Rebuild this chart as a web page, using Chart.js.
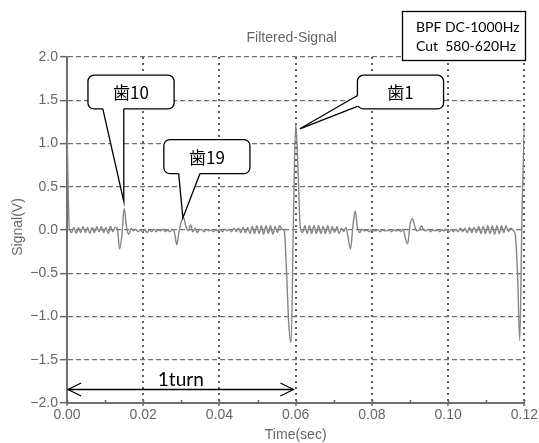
<!DOCTYPE html>
<html>
<head>
<meta charset="utf-8">
<title>Filtered-Signal</title>
<script src="https://cdn.jsdelivr.net/npm/chart.js@4.4.0/dist/chart.umd.min.js"></script>
<style>
  html, body { margin: 0; padding: 0; background: #fff; }
  #wrap { width: 539px; height: 443px; }
</style>
</head>
<body>
<div id="wrap"><canvas id="signalChart" width="539" height="443"></canvas></div>
<script>
// ── Data ─────────────────────────────────────────
// filtered signal (V), one sample every 0.6 ms from 0 to 0.12 s
const sampleStep = 0.0006;
const signal = [
  1.15, 0.03, -0.03, 0.03, -0.04, 0.03, -0.03, 0.04, -0.03, 0.03,
  -0.04, 0.03, -0.03, 0.04, -0.02, 0.04, -0.03, 0.03, -0.04, 0.04,
  -0.02, 0.03, 0.02, -0.22, -0.06, 0.25, 0.04, -0.05, 0.02, -0.01,
  0.01, -0.02, 0.0, -0.02, 0.01, -0.03, 0.0, -0.02, 0.01, -0.02,
  0.0, -0.01, 0.01, -0.02, 0.0, -0.02, 0.01, -0.03, -0.17, -0.02,
  0.1, 0.14, 0.04, -0.01, 0.06, -0.02, 0.02, -0.03, 0.01, 0.0,
  -0.02, 0.01, -0.01, 0.0, -0.02, 0.0, -0.01, 0.01, -0.02, 0.01,
  -0.01, 0.01, -0.02, 0.02, -0.02, 0.02, -0.03, 0.03, -0.03, 0.03,
  -0.04, 0.04, -0.04, 0.05, -0.04, 0.05, -0.05, 0.05, -0.04, 0.05,
  -0.05, 0.04, -0.03, 0.05, 0.01, -0.01, -0.48, -1.1, -1.3, 0.1,
  1.23, 0.72, 0.03, -0.03, 0.05, -0.04, 0.05, -0.04, 0.05, -0.04,
  0.05, -0.04, 0.04, -0.04, 0.05, -0.04, 0.04, -0.03, 0.04, -0.04,
  0.02, -0.02, 0.03, -0.1, -0.22, 0.04, 0.22, 0.03, -0.03, 0.01,
  -0.01, 0.0, -0.02, 0.0, -0.01, -0.01, 0.0, -0.02, 0.0, -0.01,
  -0.01, 0.0, -0.02, 0.0, -0.01, 0.0, -0.02, 0.01, -0.1, -0.16,
  0.06, 0.13, 0.05, -0.01, 0.0, 0.05, 0.0, -0.01, 0.01, -0.02,
  0.0, -0.01, 0.0, -0.02, 0.0, -0.01, 0.01, -0.02, 0.01, -0.02,
  0.01, -0.02, 0.02, -0.02, 0.02, -0.03, 0.03, -0.03, 0.03, -0.03,
  0.04, -0.04, 0.04, -0.04, 0.05, -0.04, 0.05, -0.05, 0.05, -0.04,
  0.05, -0.03, 0.05, -0.02, 0.02, 0.0, -0.05, -0.5, -1.28, 0.25,
  1.22
];

const timeRange = [0, 0.12];
const timeStep = 0.02;
const timeMinorTicks = [0.01, 0.03, 0.05, 0.07, 0.09, 0.11];
const voltRange = [-2, 2];
const voltStep = 0.5;

const chartTitle = 'Filtered-Signal';
const xTitle = 'Time(sec)';
const yTitle = 'Signal(V)';
const filterNote = ['BPF DC-1000Hz', 'Cut  580-620Hz'];

// callouts in data units: box [t1, v1, t2, v2], pointer base, pointer tip
const callouts = [
  { label: '歯10', box: [0.0055, 1.79, 0.0281, 1.40], side: 'bottom', base: [0.0094, 0.0149], tip: [0.0149, 0.33] },
  { label: '歯19', box: [0.0254, 1.045, 0.0480, 0.652], side: 'bottom', base: [0.0293, 0.0349], tip: [0.0304, 0.14] },
  { label: '歯1', box: [0.0762, 1.79, 0.0988, 1.40], side: 'left', base: [1.555, 1.43], tip: [0.0611, 1.17] }
];
const turnArrow = { label: '1turn', from: 0.0003, to: 0.0594, level: -1.84, labelLevel: -1.73 };

// ── Helpers ──────────────────────────────────────
const points = signal.map((v, i) => ({ x: i * sampleStep, y: v }));
const minus = s => s.replace('-', '\u2212');

function roundRectPath(ctx, x, y, w, h, r) {
  ctx.beginPath();
  ctx.moveTo(x + r, y);
  ctx.lineTo(x + w - r, y);
  ctx.arcTo(x + w, y, x + w, y + r, r);
  ctx.lineTo(x + w, y + h - r);
  ctx.arcTo(x + w, y + h, x + w - r, y + h, r);
  ctx.lineTo(x + r, y + h);
  ctx.arcTo(x, y + h, x, y + h - r, r);
  ctx.lineTo(x, y + r);
  ctx.arcTo(x, y, x + r, y, r);
  ctx.closePath();
}

function arrowHead(ctx, tx, ty, dir) {
  ctx.beginPath();
  ctx.moveTo(tx + dir * 13, ty - 6.5);
  ctx.lineTo(tx, ty);
  ctx.lineTo(tx + dir * 13, ty + 6.5);
  ctx.stroke();
}

// ── Overlay drawing ──────────────────────────────
const overlay = {
  id: 'overlay',
  afterDatasetsDraw(chart) {
    const { ctx, chartArea: area, scales: { x, y } } = chart;
    ctx.save();

    // minor ticks + inner part of major ticks on the time axis
    ctx.strokeStyle = '#666';
    ctx.lineWidth = 1.5;
    const majors = [];
    for (let t = timeRange[0]; t <= timeRange[1] + 1e-9; t += timeStep) majors.push(t);
    majors.concat(timeMinorTicks).forEach(t => {
      const px = Math.round(x.getPixelForValue(t)) + 0.5;
      ctx.beginPath();
      ctx.moveTo(px, area.bottom - 3);
      ctx.lineTo(px, area.bottom);
      ctx.stroke();
    });

    // callouts
    ctx.lineWidth = 1.3;
    ctx.strokeStyle = '#000';
    ctx.fillStyle = '#fff';
    callouts.forEach(c => {
      const x1 = x.getPixelForValue(c.box[0]), y1 = y.getPixelForValue(c.box[1]);
      const x2 = x.getPixelForValue(c.box[2]), y2 = y.getPixelForValue(c.box[3]);
      const tx = x.getPixelForValue(c.tip[0]), ty = y.getPixelForValue(c.tip[1]);
      let b1, b2, c1, c2;
      if (c.side === 'bottom') {
        b1 = [x.getPixelForValue(c.base[0]), y2]; b2 = [x.getPixelForValue(c.base[1]), y2];
        c1 = [b1[0] + 1, y2 - 2]; c2 = [b2[0] - 1, y2 - 2];
      } else {
        b1 = [x1, y.getPixelForValue(c.base[0])]; b2 = [x1, y.getPixelForValue(c.base[1])];
        c1 = [x1 + 2, b1[1] + 1]; c2 = [x1 + 2, b2[1] - 1];
      }
      roundRectPath(ctx, x1, y1, x2 - x1, y2 - y1, 6);
      ctx.fill();
      ctx.stroke();
      ctx.beginPath();
      ctx.moveTo(c1[0], c1[1]);
      ctx.lineTo(b1[0], b1[1]);
      ctx.lineTo(tx, ty);
      ctx.lineTo(b2[0], b2[1]);
      ctx.lineTo(c2[0], c2[1]);
      ctx.closePath();
      ctx.fill();
      ctx.beginPath();
      ctx.moveTo(b1[0], b1[1]);
      ctx.lineTo(tx, ty);
      ctx.lineTo(b2[0], b2[1]);
      ctx.stroke();

      ctx.save();
      ctx.fillStyle = '#000';
      ctx.font = '17px "Noto Sans CJK JP"';
      ctx.textAlign = 'center';
      ctx.textBaseline = 'middle';
      ctx.fillText(c.label, (x1 + x2) / 2, (y1 + y2) / 2 + 1);
      ctx.restore();
    });

    // one-turn double arrow
    const ay = Math.round(y.getPixelForValue(turnArrow.level)) + 0.5;
    const ax1 = x.getPixelForValue(turnArrow.from), ax2 = x.getPixelForValue(turnArrow.to);
    ctx.strokeStyle = '#000';
    ctx.lineWidth = 1.3;
    ctx.beginPath();
    ctx.moveTo(ax1, ay);
    ctx.lineTo(ax2, ay);
    ctx.stroke();
    arrowHead(ctx, ax1, ay, 1);
    arrowHead(ctx, ax2, ay, -1);
    ctx.fillStyle = '#000';
    ctx.font = '19px Lato';
    ctx.textAlign = 'center';
    ctx.textBaseline = 'middle';
    ctx.fillText(turnArrow.label, (ax1 + ax2) / 2, y.getPixelForValue(turnArrow.labelLevel));
    ctx.restore();
  },
  afterDraw(chart) {
    const { ctx, chartArea: area } = chart;
    ctx.save();
    ctx.fillStyle = '#666';
    ctx.font = '14px "Liberation Sans"';
    ctx.textAlign = 'center';
    ctx.textBaseline = 'middle';
    ctx.fillText(chartTitle, (area.left + area.right) / 2 - 4, 38);
    ctx.fillText(xTitle, (area.left + area.right) / 2, 435);
    ctx.save();
    ctx.translate(18, (area.top + area.bottom) / 2 - 3);
    ctx.rotate(-Math.PI / 2);
    ctx.fillText(yTitle, 0, 0);
    ctx.restore();

    // filter note box
    ctx.fillStyle = '#fff';
    ctx.strokeStyle = '#000';
    ctx.lineWidth = 1.3;
    ctx.fillRect(402, 11, 124, 50);
    ctx.strokeRect(402.5, 11.5, 123, 49);
    ctx.fillStyle = '#000';
    ctx.font = '14px Lato';
    ctx.textAlign = 'left';
    ctx.fillText(filterNote[0], 416, 27);
    ctx.fillText(filterNote[1], 416, 46);
    ctx.restore();
  }
};

// ── Chart ────────────────────────────────────────
const tickFont = { family: 'Liberation Sans', size: 14 };

new Chart(document.getElementById('signalChart'), {
  type: 'line',
  data: {
    datasets: [{
      label: chartTitle,
      data: points,
      borderColor: '#858585',
      borderWidth: 1.4,
      pointRadius: 0,
      cubicInterpolationMode: 'monotone',
      fill: false
    }]
  },
  options: {
    responsive: false,
    animation: false,
    devicePixelRatio: 1,
    layout: { padding: { top: 57, right: 14, left: 0, bottom: 0 } },
    plugins: { legend: { display: false }, tooltip: { enabled: false }, title: { display: false } },
    scales: {
      x: {
        type: 'linear',
        min: timeRange[0],
        max: timeRange[1],
        afterFit: s => { s.height = 40; },
        ticks: {
          stepSize: timeStep,
          color: '#666',
          font: tickFont,
          padding: 1,
          maxRotation: 0,
          callback: v => v.toFixed(2)
        },
        grid: { color: '#5e5e5e', lineWidth: 2, tickLength: 3, tickColor: '#666', tickWidth: 1.5, tickBorderDash: [] },
        border: { display: true, color: '#707070', width: 2, dash: [2, 4] }
      },
      y: {
        min: voltRange[0],
        max: voltRange[1],
        afterFit: s => { s.width = 67; },
        ticks: {
          stepSize: voltStep,
          color: '#666',
          font: tickFont,
          padding: 2,
          callback: v => minus(v.toFixed(1))
        },
        grid: { color: '#707070', lineWidth: 1.3, tickLength: 7, tickColor: '#666', tickWidth: 1.5, tickBorderDash: [] },
        border: { display: true, color: '#707070', width: 2, dash: [5, 3] }
      }
    }
  },
  plugins: [overlay]
});
</script>
</body>
</html>
